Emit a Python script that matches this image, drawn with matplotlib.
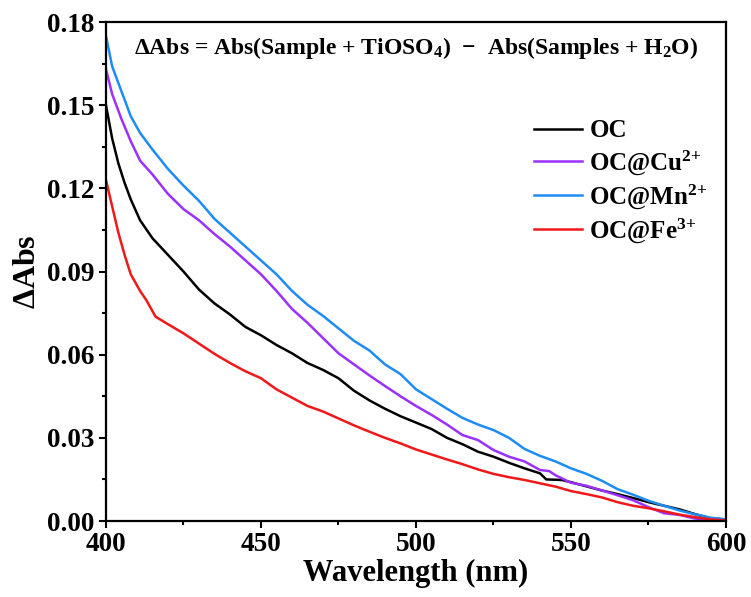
import numpy as np
import matplotlib
matplotlib.use("Agg")
import matplotlib.pyplot as plt
from matplotlib.ticker import MultipleLocator

# ========= Data =========
wl_oc = [400, 402, 404, 406, 408, 411, 415, 420, 425, 430, 435, 440, 445, 450, 455, 460, 465, 470, 475, 480,
         485, 490, 495, 500, 505, 510, 515, 520, 525, 530, 535, 540, 542, 547, 550, 555, 560, 565, 570, 575,
         580, 585, 590, 595, 600]
abs_oc = [0.150, 0.138, 0.129, 0.122, 0.116, 0.1085, 0.102, 0.096, 0.090, 0.0835, 0.0785, 0.0745, 0.070, 0.067,
          0.0635, 0.0605, 0.057, 0.0545, 0.0515, 0.047, 0.0435, 0.0405, 0.0378, 0.0355, 0.0332, 0.030, 0.0277,
          0.025, 0.0232, 0.021, 0.019, 0.0172, 0.0150, 0.0148, 0.0140, 0.0125, 0.011, 0.0097, 0.0083, 0.0068,
          0.0055, 0.0042, 0.0025, 0.001, 0.0005]

wl_cu = [400, 402, 405, 408, 411, 415, 420, 425, 430, 435, 440, 445, 450, 455, 460, 465, 470, 475, 480, 485,
         490, 495, 500, 505, 510, 515, 520, 525, 530, 535, 540, 543, 545, 550, 555, 560, 565, 570, 575, 580,
         585, 590, 595, 600]
abs_cu = [0.163, 0.154, 0.145, 0.137, 0.130, 0.125, 0.118, 0.1125, 0.1085, 0.1035, 0.099, 0.094, 0.089, 0.083,
          0.0765, 0.0715, 0.066, 0.0605, 0.0565, 0.0525, 0.0487, 0.045, 0.0415, 0.0383, 0.0348, 0.031, 0.0292,
          0.0256, 0.0232, 0.0215, 0.0184, 0.0180, 0.0165, 0.0138, 0.0127, 0.011, 0.0093, 0.0075, 0.005, 0.0028,
          0.0022, 0.0009, 0.0004, 0.0003]

wl_mn = [400, 402, 405, 408, 411, 415, 420, 425, 430, 435, 440, 445, 450, 455, 460, 465, 470, 475, 480, 485,
         490, 495, 500, 505, 510, 515, 520, 525, 530, 535, 540, 545, 550, 555, 560, 565, 570, 575, 580, 585,
         590, 595, 600]
abs_mn = [0.175, 0.164, 0.155, 0.146, 0.140, 0.134, 0.127, 0.121, 0.1155, 0.109, 0.104, 0.099, 0.094, 0.089,
          0.083, 0.078, 0.074, 0.0695, 0.065, 0.0615, 0.0565, 0.053, 0.0475, 0.044, 0.0405, 0.0372, 0.0348,
          0.0328, 0.030, 0.026, 0.0235, 0.0215, 0.019, 0.017, 0.0145, 0.0115, 0.0095, 0.0073, 0.0055, 0.0038,
          0.0024, 0.0012, 0.0006]

wl_fe = [400, 402, 404, 406, 408, 411, 413, 416, 420, 425, 430, 435, 440, 445, 450, 455, 460, 465, 470, 475,
         480, 485, 490, 495, 500, 505, 510, 515, 520, 525, 530, 535, 540, 545, 550, 555, 560, 565, 570, 575,
         580, 585, 590, 595, 600]
abs_fe = [0.123, 0.1135, 0.104, 0.096, 0.089, 0.083, 0.0797, 0.0737, 0.071, 0.0677, 0.064, 0.0603, 0.057,
          0.054, 0.0515, 0.0475, 0.0445, 0.0415, 0.0395, 0.037, 0.0345, 0.0322, 0.030, 0.028, 0.0258, 0.024,
          0.0222, 0.0205, 0.0186, 0.017, 0.0158, 0.0148, 0.0136, 0.0124, 0.0108, 0.0097, 0.0085, 0.0068,
          0.0055, 0.0046, 0.0035, 0.0023, 0.0014, 0.0006, 0.0002]

labels = ["OC", r"OC@Cu$^{\mathbf{2{+}}}$", r"OC@Mn$^{\mathbf{2{+}}}$", r"OC@Fe$^{\mathbf{3{+}}}$"]
colors = ["#000000", "#9B30FF", "#1E8CF5", "#F01818"]

# ========= Style =========
plt.rcParams["font.family"] = "Liberation Serif"
plt.rcParams["font.weight"] = "bold"
plt.rcParams["mathtext.fontset"] = "custom"
plt.rcParams["mathtext.rm"] = "Liberation Serif:bold"
plt.rcParams["mathtext.bf"] = "Liberation Serif:bold"
plt.rcParams["mathtext.it"] = "Liberation Serif:bold"

fig = plt.figure(figsize=(7.51, 5.97), dpi=100)
ax = fig.add_axes([0.1411, 0.1273, 0.8256, 0.8358])

series = [(wl_oc, abs_oc), (wl_cu, abs_cu), (wl_mn, abs_mn), (wl_fe, abs_fe)]
for (x, y), lab, c in zip(series, labels, colors):
    ax.plot(x, y, color=c, lw=1.8, label=lab)

ax.set_xlim(400, 600)
ax.set_ylim(0, 0.18)
ax.xaxis.set_major_locator(MultipleLocator(50))
ax.xaxis.set_minor_locator(MultipleLocator(25))
ax.yaxis.set_major_locator(MultipleLocator(0.03))
ax.yaxis.set_minor_locator(MultipleLocator(0.015))
ax.yaxis.set_major_formatter(matplotlib.ticker.FormatStrFormatter("%.2f"))
ax.tick_params(which="major", direction="out", length=5, width=1.5, labelsize=19.5, pad=3)
ax.tick_params(which="minor", direction="out", length=3, width=1.5)
for s in ax.spines.values():
    s.set_linewidth(1.6)

ax.set_xlabel("Wavelength (nm)", fontsize=22, fontweight="bold", labelpad=1)
ax.set_ylabel(r"$\Delta$Abs", fontsize=23, fontweight="bold", labelpad=4)

ax.text(0.5, 0.948, r"$\Delta$Abs = Abs(Sample + TiOSO$_{\mathbf{4}}$)  $-$  Abs(Samples + H$_{\mathbf{2}}$O)",
        transform=ax.transAxes, ha="center", va="center", fontsize=17, fontweight="bold")

ax.legend(loc="upper left", bbox_to_anchor=(0.675, 0.825), frameon=False, fontsize=18,
          handlelength=1.9, handletextpad=0.3, labelspacing=0.22, borderaxespad=0)

fig.savefig("out.png", dpi=100)
